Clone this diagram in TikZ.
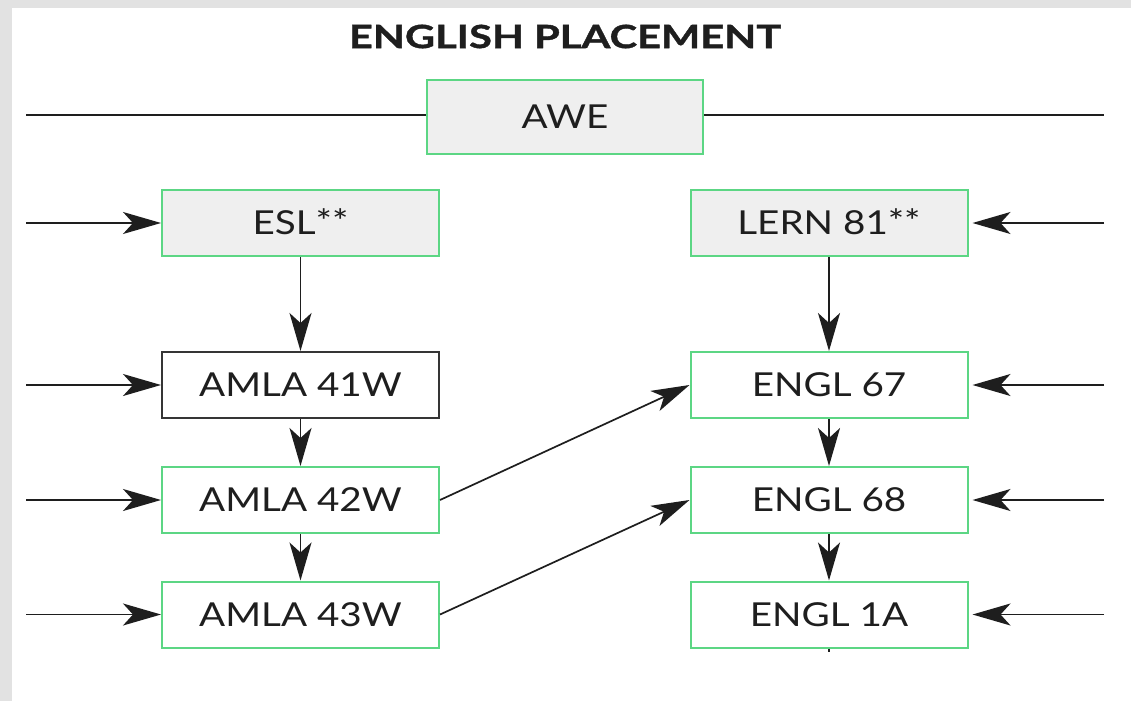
\documentclass[tikz,border=0pt]{standalone}
\usepackage{fontspec}
\setmainfont{Lato}
\newfontfamily\boxfont[FakeStretch=1.17]{Lato}
\newfontfamily\titlefont[FakeStretch=1.3, BoldFeatures={FakeBold=1.2}]{Lato}
\usetikzlibrary{arrows.meta}
\definecolor{boxgreen}{RGB}{92,214,132}
\definecolor{boxgray}{RGB}{239,239,239}
\definecolor{ink}{RGB}{30,30,30}
\definecolor{pagegray}{RGB}{226,226,226}
\begin{document}
\begin{tikzpicture}[x=1pt,y=-1pt,
  course/.style={draw=boxgreen, line width=2pt, fill=white, minimum width=277pt,
    minimum height=66pt, inner sep=0pt, text=ink,
    font=\boxfont\fontsize{33pt}{33pt}\selectfont},
  shaded/.style={course, fill=boxgray},
  plainbox/.style={course, draw=ink!90},
  conn/.style={draw=ink, line width=1.7pt, -{Stealth[length=38pt,width=22pt,inset=10pt]}},
  rule/.style={draw=ink, line width=1.7pt}]
\useasboundingbox (0,0) rectangle (1131,701);
\fill[white] (0,0) rectangle (1131,701);
\fill[pagegray] (0,0) rectangle (12,701);
\fill[pagegray] (0,0) rectangle (1131,8);

\node[text=ink, font=\titlefont\bfseries\fontsize{32pt}{32pt}\selectfont] (title) at (565,36.5) {ENGLISH PLACEMENT};

\node[shaded, minimum width=276pt, minimum height=74pt] (awe) at (565,117) {AWE};
\node[shaded] (esl) at (300.5,223) {ESL\smash{\raisebox{1pt}{**}}};
\node[shaded] (lern) at (829,223) {LERN 81\smash{\raisebox{1pt}{**}}};
\node[plainbox] (a41) at (300.5,385) {AMLA 41W};
\node[course] (a42) at (300.5,500) {AMLA 42W};
\node[course] (a43) at (300.5,614.5) {AMLA 43W};
\node[course] (e67) at (829,385) {ENGL 67};
\node[course] (e68) at (829,500) {ENGL 68};
\node[course] (e1a) at (829,614.5) {ENGL 1A};

\coordinate (awl) at (26,115);
\coordinate (awr) at (1104,115);
\draw[rule] (awl) -- (awl -| awe.west);
\draw[rule] (awr -| awe.east) -- (awr);

\foreach \n/\y in {esl/223, a41/385, a42/500, a43/614.5}{
  \coordinate (l\n) at (26,\y);
  \draw[conn] (l\n) -- (\n.west);
}
\foreach \n/\y in {lern/223, e67/385, e68/500, e1a/614.5}{
  \coordinate (r\n) at (1104,\y);
  \draw[conn, shorten >=4pt] (r\n) -- (\n.east);
}

\draw[conn] (esl) -- (a41);
\draw[conn] (a41) -- (a42);
\draw[conn] (a42) -- (a43);
\draw[conn] (lern) -- (e67);
\draw[conn] (e67) -- (e68);
\draw[conn] (e68) -- (e1a);
\draw[conn] (a42.east) -- (e67.west);
\draw[conn] (a43.east) -- (e68.west);
\coordinate (dot) at (829,652);
\draw[draw=ink, line width=1.2pt] (e1a.south) -- (dot);
\end{tikzpicture}
\end{document}
